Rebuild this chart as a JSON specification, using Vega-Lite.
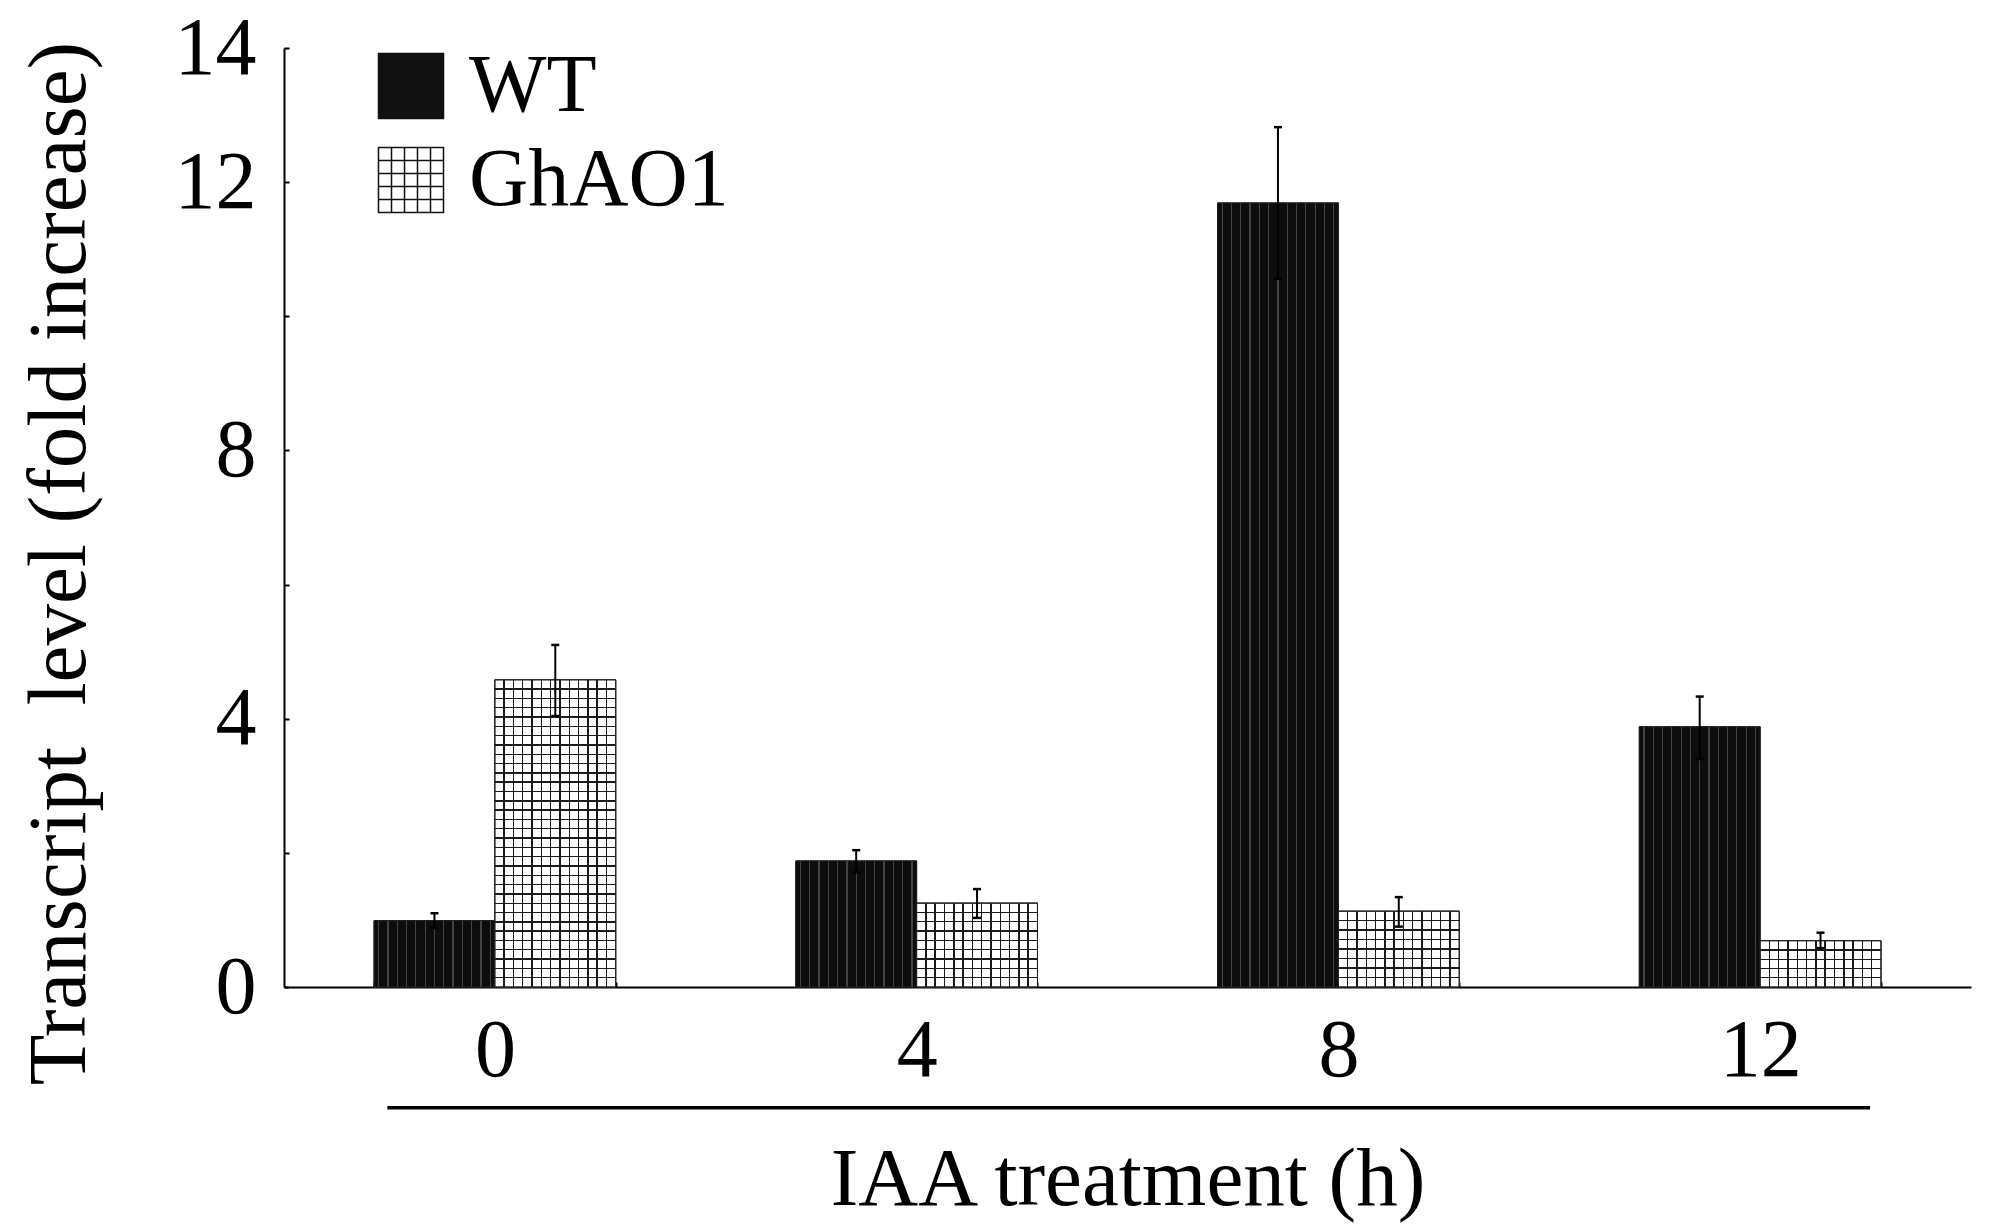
{
  "$schema": "https://vega.github.io/schema/vega-lite/v6.json",
  "autosize": "none",
  "width": 1687,
  "height": 939,
  "padding": {"left": 284, "top": 48, "right": 25, "bottom": 240},
  "background": "white",
  "config": {
    "font": "Liberation Serif",
    "view": {"stroke": null}
  },
  "data": {
    "values": [
      {"time": "0", "genotype": "WT", "value": 0.99, "lo": 0.88, "hi": 1.10},
      {"time": "0", "genotype": "GhAO1", "value": 4.58, "lo": 4.04, "hi": 5.10},
      {"time": "4", "genotype": "WT", "value": 1.88, "lo": 1.71, "hi": 2.04},
      {"time": "4", "genotype": "GhAO1", "value": 1.25, "lo": 1.03, "hi": 1.46},
      {"time": "8", "genotype": "WT", "value": 11.69, "lo": 10.56, "hi": 12.82},
      {"time": "8", "genotype": "GhAO1", "value": 1.13, "lo": 0.90, "hi": 1.34},
      {"time": "12", "genotype": "WT", "value": 3.88, "lo": 3.40, "hi": 4.33},
      {"time": "12", "genotype": "GhAO1", "value": 0.69, "lo": 0.58, "hi": 0.81}
    ]
  },
  "layer": [
    {
      "mark": {"type": "bar", "stroke": "#222222", "strokeWidth": 1},
      "encoding": {
        "x": {
          "field": "time", "type": "nominal", "sort": ["0", "4", "8", "12"],
          "scale": {"paddingInner": 0.427, "paddingOuter": 0.2135},
          "axis": {
            "title": "IAA treatment (h)",
            "labelAngle": 0, "labelFontSize": 82, "labelPadding": 28, "labelColor": "black",
            "tickBand": "extent", "tickSize": -5, "tickWidth": 2, "tickColor": "black",
            "domainColor": "black", "domainWidth": 2,
            "titleFontSize": 83, "titleFontWeight": "normal", "titleColor": "black",
            "titleY": 217, "titleBaseline": "alphabetic"
          }
        },
        "xOffset": {"field": "genotype", "type": "nominal", "sort": ["WT", "GhAO1"], "scale": {"paddingInner": 0, "paddingOuter": 0}},
        "y": {
          "field": "value", "type": "quantitative",
          "scale": {"domain": [0, 14], "nice": false},
          "axis": {
            "title": "Transcript \u00a0level (fold increase)",
            "values": [0, 2, 4, 6, 8, 10, 12, 14],
            "format": "d",
            "labelExpr": "(datum.value == 2 || datum.value == 6 || datum.value == 10) ? '' : datum.label",
            "grid": false, "labelFlush": false, "labelOverlap": false,
            "tickSize": -5, "tickWidth": 2, "tickColor": "black",
            "domainColor": "black", "domainWidth": 2,
            "labelFontSize": 82, "labelPadding": 33, "labelColor": "black",
            "titleFontSize": 83, "titleFontWeight": "normal", "titleColor": "black",
            "titleX": -200, "titleY": 515, "titleAngle": 270, "titleAlign": "center", "titleBaseline": "alphabetic"
          }
        },
        "fill": {
          "field": "genotype", "type": "nominal", "sort": ["WT", "GhAO1"],
          "scale": {"domain": ["WT", "GhAO1"], "range": ["#111111", "#ffffff"]},
          "legend": {
            "title": null, "orient": "none", "legendX": 86, "legendY": -3, "padding": 0,
            "symbolType": "M-1,-1H1V1H-1Z M-0.6,-1V1 M-0.2,-1V1 M0.2,-1V1 M0.6,-1V1 M-1,-0.6H1 M-1,-0.2H1 M-1,0.2H1 M-1,0.6H1",
            "symbolSize": 4225, "symbolStrokeColor": "#111111", "symbolStrokeWidth": 1.5,
            "labelFontSize": 82, "labelColor": "black", "labelOffset": 17, "labelLimit": 600, "rowPadding": 12
          }
        }
      }
    },
    {
      "transform": [{"filter": "datum.genotype === 'WT'"}],
      "mark": {
        "type": "bar", "stroke": "#222222", "strokeWidth": 1,
        "color": {"gradient": "linear", "x1": 0, "y1": 0, "x2": 1, "y2": 0, "stops": [
          {"offset": 0, "color": "#0d0d0d"},
          {"offset": 0.0335, "color": "#0d0d0d"}, {"offset": 0.0335, "color": "#444444"}, {"offset": 0.0435, "color": "#444444"}, {"offset": 0.0435, "color": "#0d0d0d"},
          {"offset": 0.1104, "color": "#0d0d0d"}, {"offset": 0.1104, "color": "#444444"}, {"offset": 0.1204, "color": "#444444"}, {"offset": 0.1204, "color": "#0d0d0d"},
          {"offset": 0.1873, "color": "#0d0d0d"}, {"offset": 0.1873, "color": "#444444"}, {"offset": 0.1973, "color": "#444444"}, {"offset": 0.1973, "color": "#0d0d0d"},
          {"offset": 0.2642, "color": "#0d0d0d"}, {"offset": 0.2642, "color": "#444444"}, {"offset": 0.2742, "color": "#444444"}, {"offset": 0.2742, "color": "#0d0d0d"},
          {"offset": 0.3412, "color": "#0d0d0d"}, {"offset": 0.3412, "color": "#444444"}, {"offset": 0.3512, "color": "#444444"}, {"offset": 0.3512, "color": "#0d0d0d"},
          {"offset": 0.4181, "color": "#0d0d0d"}, {"offset": 0.4181, "color": "#444444"}, {"offset": 0.4281, "color": "#444444"}, {"offset": 0.4281, "color": "#0d0d0d"},
          {"offset": 0.4950, "color": "#0d0d0d"}, {"offset": 0.4950, "color": "#444444"}, {"offset": 0.5050, "color": "#444444"}, {"offset": 0.5050, "color": "#0d0d0d"},
          {"offset": 0.5719, "color": "#0d0d0d"}, {"offset": 0.5719, "color": "#444444"}, {"offset": 0.5819, "color": "#444444"}, {"offset": 0.5819, "color": "#0d0d0d"},
          {"offset": 0.6488, "color": "#0d0d0d"}, {"offset": 0.6488, "color": "#444444"}, {"offset": 0.6588, "color": "#444444"}, {"offset": 0.6588, "color": "#0d0d0d"},
          {"offset": 0.7258, "color": "#0d0d0d"}, {"offset": 0.7258, "color": "#444444"}, {"offset": 0.7358, "color": "#444444"}, {"offset": 0.7358, "color": "#0d0d0d"},
          {"offset": 0.8027, "color": "#0d0d0d"}, {"offset": 0.8027, "color": "#444444"}, {"offset": 0.8127, "color": "#444444"}, {"offset": 0.8127, "color": "#0d0d0d"},
          {"offset": 0.8796, "color": "#0d0d0d"}, {"offset": 0.8796, "color": "#444444"}, {"offset": 0.8896, "color": "#444444"}, {"offset": 0.8896, "color": "#0d0d0d"},
          {"offset": 0.9565, "color": "#0d0d0d"}, {"offset": 0.9565, "color": "#444444"}, {"offset": 0.9665, "color": "#444444"}, {"offset": 0.9665, "color": "#0d0d0d"},
          {"offset": 1, "color": "#0d0d0d"}
        ]}
      },
      "encoding": {
        "x": {"field": "time", "type": "nominal", "sort": ["0", "4", "8", "12"]},
        "xOffset": {"field": "genotype", "type": "nominal", "sort": ["WT", "GhAO1"]},
        "y": {"field": "value", "type": "quantitative"}
      }
    },
    {
      "transform": [{"filter": "datum.genotype === 'GhAO1'"}],
      "mark": {
        "type": "bar", "stroke": "#222222", "strokeWidth": 1,
        "color": {"gradient": "linear", "x1": 0, "y1": 0, "x2": 1, "y2": 0, "stops": [
          {"offset": 0, "color": "#ffffff"},
          {"offset": 0.0709, "color": "#ffffff"}, {"offset": 0.0709, "color": "#1a1a1a"}, {"offset": 0.0829, "color": "#1a1a1a"}, {"offset": 0.0829, "color": "#ffffff"},
          {"offset": 0.1478, "color": "#ffffff"}, {"offset": 0.1478, "color": "#1a1a1a"}, {"offset": 0.1598, "color": "#1a1a1a"}, {"offset": 0.1598, "color": "#ffffff"},
          {"offset": 0.2248, "color": "#ffffff"}, {"offset": 0.2248, "color": "#1a1a1a"}, {"offset": 0.2368, "color": "#1a1a1a"}, {"offset": 0.2368, "color": "#ffffff"},
          {"offset": 0.3017, "color": "#ffffff"}, {"offset": 0.3017, "color": "#1a1a1a"}, {"offset": 0.3137, "color": "#1a1a1a"}, {"offset": 0.3137, "color": "#ffffff"},
          {"offset": 0.3786, "color": "#ffffff"}, {"offset": 0.3786, "color": "#1a1a1a"}, {"offset": 0.3906, "color": "#1a1a1a"}, {"offset": 0.3906, "color": "#ffffff"},
          {"offset": 0.4555, "color": "#ffffff"}, {"offset": 0.4555, "color": "#1a1a1a"}, {"offset": 0.4675, "color": "#1a1a1a"}, {"offset": 0.4675, "color": "#ffffff"},
          {"offset": 0.5325, "color": "#ffffff"}, {"offset": 0.5325, "color": "#1a1a1a"}, {"offset": 0.5445, "color": "#1a1a1a"}, {"offset": 0.5445, "color": "#ffffff"},
          {"offset": 0.6094, "color": "#ffffff"}, {"offset": 0.6094, "color": "#1a1a1a"}, {"offset": 0.6214, "color": "#1a1a1a"}, {"offset": 0.6214, "color": "#ffffff"},
          {"offset": 0.6863, "color": "#ffffff"}, {"offset": 0.6863, "color": "#1a1a1a"}, {"offset": 0.6983, "color": "#1a1a1a"}, {"offset": 0.6983, "color": "#ffffff"},
          {"offset": 0.7632, "color": "#ffffff"}, {"offset": 0.7632, "color": "#1a1a1a"}, {"offset": 0.7752, "color": "#1a1a1a"}, {"offset": 0.7752, "color": "#ffffff"},
          {"offset": 0.8402, "color": "#ffffff"}, {"offset": 0.8402, "color": "#1a1a1a"}, {"offset": 0.8522, "color": "#1a1a1a"}, {"offset": 0.8522, "color": "#ffffff"},
          {"offset": 0.9171, "color": "#ffffff"}, {"offset": 0.9171, "color": "#1a1a1a"}, {"offset": 0.9291, "color": "#1a1a1a"}, {"offset": 0.9291, "color": "#ffffff"},
          {"offset": 1, "color": "#ffffff"}
        ]}
      },
      "encoding": {
        "x": {"field": "time", "type": "nominal", "sort": ["0", "4", "8", "12"]},
        "xOffset": {"field": "genotype", "type": "nominal", "sort": ["WT", "GhAO1"]},
        "y": {"field": "value", "type": "quantitative"}
      }
    },
    {
      "transform": [{"filter": "datum.genotype === 'GhAO1' && datum.time === '0'"}],
      "mark": {
        "type": "bar", "stroke": "#222222", "strokeWidth": 1,
        "color": {"gradient": "linear", "x1": 0, "y1": 0, "x2": 0, "y2": 1, "stops": [
          {"offset": 0, "color": "transparent"},
          {"offset": 0.0280, "color": "transparent"}, {"offset": 0.0280, "color": "#1a1a1a"}, {"offset": 0.0326, "color": "#1a1a1a"}, {"offset": 0.0326, "color": "transparent"},
          {"offset": 0.0583, "color": "transparent"}, {"offset": 0.0583, "color": "#1a1a1a"}, {"offset": 0.0629, "color": "#1a1a1a"}, {"offset": 0.0629, "color": "transparent"},
          {"offset": 0.0886, "color": "transparent"}, {"offset": 0.0886, "color": "#1a1a1a"}, {"offset": 0.0932, "color": "#1a1a1a"}, {"offset": 0.0932, "color": "transparent"},
          {"offset": 0.1189, "color": "transparent"}, {"offset": 0.1189, "color": "#1a1a1a"}, {"offset": 0.1235, "color": "#1a1a1a"}, {"offset": 0.1235, "color": "transparent"},
          {"offset": 0.1492, "color": "transparent"}, {"offset": 0.1492, "color": "#1a1a1a"}, {"offset": 0.1538, "color": "#1a1a1a"}, {"offset": 0.1538, "color": "transparent"},
          {"offset": 0.1795, "color": "transparent"}, {"offset": 0.1795, "color": "#1a1a1a"}, {"offset": 0.1841, "color": "#1a1a1a"}, {"offset": 0.1841, "color": "transparent"},
          {"offset": 0.2098, "color": "transparent"}, {"offset": 0.2098, "color": "#1a1a1a"}, {"offset": 0.2144, "color": "#1a1a1a"}, {"offset": 0.2144, "color": "transparent"},
          {"offset": 0.2401, "color": "transparent"}, {"offset": 0.2401, "color": "#1a1a1a"}, {"offset": 0.2447, "color": "#1a1a1a"}, {"offset": 0.2447, "color": "transparent"},
          {"offset": 0.2704, "color": "transparent"}, {"offset": 0.2704, "color": "#1a1a1a"}, {"offset": 0.2750, "color": "#1a1a1a"}, {"offset": 0.2750, "color": "transparent"},
          {"offset": 0.3007, "color": "transparent"}, {"offset": 0.3007, "color": "#1a1a1a"}, {"offset": 0.3053, "color": "#1a1a1a"}, {"offset": 0.3053, "color": "transparent"},
          {"offset": 0.3310, "color": "transparent"}, {"offset": 0.3310, "color": "#1a1a1a"}, {"offset": 0.3356, "color": "#1a1a1a"}, {"offset": 0.3356, "color": "transparent"},
          {"offset": 0.3613, "color": "transparent"}, {"offset": 0.3613, "color": "#1a1a1a"}, {"offset": 0.3659, "color": "#1a1a1a"}, {"offset": 0.3659, "color": "transparent"},
          {"offset": 0.3916, "color": "transparent"}, {"offset": 0.3916, "color": "#1a1a1a"}, {"offset": 0.3962, "color": "#1a1a1a"}, {"offset": 0.3962, "color": "transparent"},
          {"offset": 0.4219, "color": "transparent"}, {"offset": 0.4219, "color": "#1a1a1a"}, {"offset": 0.4265, "color": "#1a1a1a"}, {"offset": 0.4265, "color": "transparent"},
          {"offset": 0.4522, "color": "transparent"}, {"offset": 0.4522, "color": "#1a1a1a"}, {"offset": 0.4568, "color": "#1a1a1a"}, {"offset": 0.4568, "color": "transparent"},
          {"offset": 0.4825, "color": "transparent"}, {"offset": 0.4825, "color": "#1a1a1a"}, {"offset": 0.4871, "color": "#1a1a1a"}, {"offset": 0.4871, "color": "transparent"},
          {"offset": 0.5129, "color": "transparent"}, {"offset": 0.5129, "color": "#1a1a1a"}, {"offset": 0.5175, "color": "#1a1a1a"}, {"offset": 0.5175, "color": "transparent"},
          {"offset": 0.5432, "color": "transparent"}, {"offset": 0.5432, "color": "#1a1a1a"}, {"offset": 0.5478, "color": "#1a1a1a"}, {"offset": 0.5478, "color": "transparent"},
          {"offset": 0.5735, "color": "transparent"}, {"offset": 0.5735, "color": "#1a1a1a"}, {"offset": 0.5781, "color": "#1a1a1a"}, {"offset": 0.5781, "color": "transparent"},
          {"offset": 0.6038, "color": "transparent"}, {"offset": 0.6038, "color": "#1a1a1a"}, {"offset": 0.6084, "color": "#1a1a1a"}, {"offset": 0.6084, "color": "transparent"},
          {"offset": 0.6341, "color": "transparent"}, {"offset": 0.6341, "color": "#1a1a1a"}, {"offset": 0.6387, "color": "#1a1a1a"}, {"offset": 0.6387, "color": "transparent"},
          {"offset": 0.6644, "color": "transparent"}, {"offset": 0.6644, "color": "#1a1a1a"}, {"offset": 0.6690, "color": "#1a1a1a"}, {"offset": 0.6690, "color": "transparent"},
          {"offset": 0.6947, "color": "transparent"}, {"offset": 0.6947, "color": "#1a1a1a"}, {"offset": 0.6993, "color": "#1a1a1a"}, {"offset": 0.6993, "color": "transparent"},
          {"offset": 0.7250, "color": "transparent"}, {"offset": 0.7250, "color": "#1a1a1a"}, {"offset": 0.7296, "color": "#1a1a1a"}, {"offset": 0.7296, "color": "transparent"},
          {"offset": 0.7553, "color": "transparent"}, {"offset": 0.7553, "color": "#1a1a1a"}, {"offset": 0.7599, "color": "#1a1a1a"}, {"offset": 0.7599, "color": "transparent"},
          {"offset": 0.7856, "color": "transparent"}, {"offset": 0.7856, "color": "#1a1a1a"}, {"offset": 0.7902, "color": "#1a1a1a"}, {"offset": 0.7902, "color": "transparent"},
          {"offset": 0.8159, "color": "transparent"}, {"offset": 0.8159, "color": "#1a1a1a"}, {"offset": 0.8205, "color": "#1a1a1a"}, {"offset": 0.8205, "color": "transparent"},
          {"offset": 0.8462, "color": "transparent"}, {"offset": 0.8462, "color": "#1a1a1a"}, {"offset": 0.8508, "color": "#1a1a1a"}, {"offset": 0.8508, "color": "transparent"},
          {"offset": 0.8765, "color": "transparent"}, {"offset": 0.8765, "color": "#1a1a1a"}, {"offset": 0.8811, "color": "#1a1a1a"}, {"offset": 0.8811, "color": "transparent"},
          {"offset": 0.9068, "color": "transparent"}, {"offset": 0.9068, "color": "#1a1a1a"}, {"offset": 0.9114, "color": "#1a1a1a"}, {"offset": 0.9114, "color": "transparent"},
          {"offset": 0.9371, "color": "transparent"}, {"offset": 0.9371, "color": "#1a1a1a"}, {"offset": 0.9417, "color": "#1a1a1a"}, {"offset": 0.9417, "color": "transparent"},
          {"offset": 0.9674, "color": "transparent"}, {"offset": 0.9674, "color": "#1a1a1a"}, {"offset": 0.9720, "color": "#1a1a1a"}, {"offset": 0.9720, "color": "transparent"},
          {"offset": 1, "color": "transparent"}
        ]}
      },
      "encoding": {
        "x": {"field": "time", "type": "nominal", "sort": ["0", "4", "8", "12"]},
        "xOffset": {"field": "genotype", "type": "nominal", "sort": ["WT", "GhAO1"]},
        "y": {"field": "value", "type": "quantitative"}
      }
    },
    {
      "transform": [{"filter": "datum.genotype === 'GhAO1' && datum.time === '4'"}],
      "mark": {
        "type": "bar", "stroke": "#222222", "strokeWidth": 1,
        "color": {"gradient": "linear", "x1": 0, "y1": 0, "x2": 0, "y2": 1, "stops": [
          {"offset": 0, "color": "transparent"},
          {"offset": 0.1028, "color": "transparent"}, {"offset": 0.1028, "color": "#1a1a1a"}, {"offset": 0.1194, "color": "#1a1a1a"}, {"offset": 0.1194, "color": "transparent"},
          {"offset": 0.2139, "color": "transparent"}, {"offset": 0.2139, "color": "#1a1a1a"}, {"offset": 0.2305, "color": "#1a1a1a"}, {"offset": 0.2305, "color": "transparent"},
          {"offset": 0.3250, "color": "transparent"}, {"offset": 0.3250, "color": "#1a1a1a"}, {"offset": 0.3416, "color": "#1a1a1a"}, {"offset": 0.3416, "color": "transparent"},
          {"offset": 0.4361, "color": "transparent"}, {"offset": 0.4361, "color": "#1a1a1a"}, {"offset": 0.4527, "color": "#1a1a1a"}, {"offset": 0.4527, "color": "transparent"},
          {"offset": 0.5473, "color": "transparent"}, {"offset": 0.5473, "color": "#1a1a1a"}, {"offset": 0.5639, "color": "#1a1a1a"}, {"offset": 0.5639, "color": "transparent"},
          {"offset": 0.6584, "color": "transparent"}, {"offset": 0.6584, "color": "#1a1a1a"}, {"offset": 0.6750, "color": "#1a1a1a"}, {"offset": 0.6750, "color": "transparent"},
          {"offset": 0.7695, "color": "transparent"}, {"offset": 0.7695, "color": "#1a1a1a"}, {"offset": 0.7861, "color": "#1a1a1a"}, {"offset": 0.7861, "color": "transparent"},
          {"offset": 0.8806, "color": "transparent"}, {"offset": 0.8806, "color": "#1a1a1a"}, {"offset": 0.8972, "color": "#1a1a1a"}, {"offset": 0.8972, "color": "transparent"},
          {"offset": 1, "color": "transparent"}
        ]}
      },
      "encoding": {
        "x": {"field": "time", "type": "nominal", "sort": ["0", "4", "8", "12"]},
        "xOffset": {"field": "genotype", "type": "nominal", "sort": ["WT", "GhAO1"]},
        "y": {"field": "value", "type": "quantitative"}
      }
    },
    {
      "transform": [{"filter": "datum.genotype === 'GhAO1' && datum.time === '8'"}],
      "mark": {
        "type": "bar", "stroke": "#222222", "strokeWidth": 1,
        "color": {"gradient": "linear", "x1": 0, "y1": 0, "x2": 0, "y2": 1, "stops": [
          {"offset": 0, "color": "transparent"},
          {"offset": 0.1158, "color": "transparent"}, {"offset": 0.1158, "color": "#1a1a1a"}, {"offset": 0.1342, "color": "#1a1a1a"}, {"offset": 0.1342, "color": "transparent"},
          {"offset": 0.2408, "color": "transparent"}, {"offset": 0.2408, "color": "#1a1a1a"}, {"offset": 0.2592, "color": "#1a1a1a"}, {"offset": 0.2592, "color": "transparent"},
          {"offset": 0.3658, "color": "transparent"}, {"offset": 0.3658, "color": "#1a1a1a"}, {"offset": 0.3842, "color": "#1a1a1a"}, {"offset": 0.3842, "color": "transparent"},
          {"offset": 0.4908, "color": "transparent"}, {"offset": 0.4908, "color": "#1a1a1a"}, {"offset": 0.5092, "color": "#1a1a1a"}, {"offset": 0.5092, "color": "transparent"},
          {"offset": 0.6158, "color": "transparent"}, {"offset": 0.6158, "color": "#1a1a1a"}, {"offset": 0.6342, "color": "#1a1a1a"}, {"offset": 0.6342, "color": "transparent"},
          {"offset": 0.7408, "color": "transparent"}, {"offset": 0.7408, "color": "#1a1a1a"}, {"offset": 0.7592, "color": "#1a1a1a"}, {"offset": 0.7592, "color": "transparent"},
          {"offset": 0.8658, "color": "transparent"}, {"offset": 0.8658, "color": "#1a1a1a"}, {"offset": 0.8842, "color": "#1a1a1a"}, {"offset": 0.8842, "color": "transparent"},
          {"offset": 1, "color": "transparent"}
        ]}
      },
      "encoding": {
        "x": {"field": "time", "type": "nominal", "sort": ["0", "4", "8", "12"]},
        "xOffset": {"field": "genotype", "type": "nominal", "sort": ["WT", "GhAO1"]},
        "y": {"field": "value", "type": "quantitative"}
      }
    },
    {
      "transform": [{"filter": "datum.genotype === 'GhAO1' && datum.time === '12'"}],
      "mark": {
        "type": "bar", "stroke": "#222222", "strokeWidth": 1,
        "color": {"gradient": "linear", "x1": 0, "y1": 0, "x2": 0, "y2": 1, "stops": [
          {"offset": 0, "color": "transparent"},
          {"offset": 0.185, "color": "transparent"}, {"offset": 0.185, "color": "#1a1a1a"}, {"offset": 0.215, "color": "#1a1a1a"}, {"offset": 0.215, "color": "transparent"},
          {"offset": 0.385, "color": "transparent"}, {"offset": 0.385, "color": "#1a1a1a"}, {"offset": 0.415, "color": "#1a1a1a"}, {"offset": 0.415, "color": "transparent"},
          {"offset": 0.585, "color": "transparent"}, {"offset": 0.585, "color": "#1a1a1a"}, {"offset": 0.615, "color": "#1a1a1a"}, {"offset": 0.615, "color": "transparent"},
          {"offset": 0.785, "color": "transparent"}, {"offset": 0.785, "color": "#1a1a1a"}, {"offset": 0.815, "color": "#1a1a1a"}, {"offset": 0.815, "color": "transparent"},
          {"offset": 1, "color": "transparent"}
        ]}
      },
      "encoding": {
        "x": {"field": "time", "type": "nominal", "sort": ["0", "4", "8", "12"]},
        "xOffset": {"field": "genotype", "type": "nominal", "sort": ["WT", "GhAO1"]},
        "y": {"field": "value", "type": "quantitative"}
      }
    },
    {
      "mark": {"type": "rule", "strokeWidth": 2, "color": "black"},
      "encoding": {
        "x": {"field": "time", "type": "nominal", "sort": ["0", "4", "8", "12"]},
        "xOffset": {"field": "genotype", "type": "nominal", "sort": ["WT", "GhAO1"]},
        "y": {"field": "lo", "type": "quantitative"},
        "y2": {"field": "hi"}
      }
    },
    {
      "mark": {"type": "tick", "size": 8, "thickness": 2.5, "color": "black", "opacity": 1},
      "encoding": {
        "x": {"field": "time", "type": "nominal", "sort": ["0", "4", "8", "12"]},
        "xOffset": {"field": "genotype", "type": "nominal", "sort": ["WT", "GhAO1"]},
        "y": {"field": "hi", "type": "quantitative"}
      }
    },
    {
      "mark": {"type": "tick", "size": 8, "thickness": 2.5, "color": "black", "opacity": 1},
      "encoding": {
        "x": {"field": "time", "type": "nominal", "sort": ["0", "4", "8", "12"]},
        "xOffset": {"field": "genotype", "type": "nominal", "sort": ["WT", "GhAO1"]},
        "y": {"field": "lo", "type": "quantitative"}
      }
    },
    {
      "data": {"values": [{"part": "underline"}]},
      "mark": {"type": "rule", "strokeWidth": 3.5, "color": "black"},
      "encoding": {
        "x": {"datum": "0", "type": "nominal", "bandPosition": 0.055},
        "x2": {"datum": "12", "bandPosition": 0.955},
        "y": {"datum": -1.8, "type": "quantitative"}
      }
    }
  ]
}
